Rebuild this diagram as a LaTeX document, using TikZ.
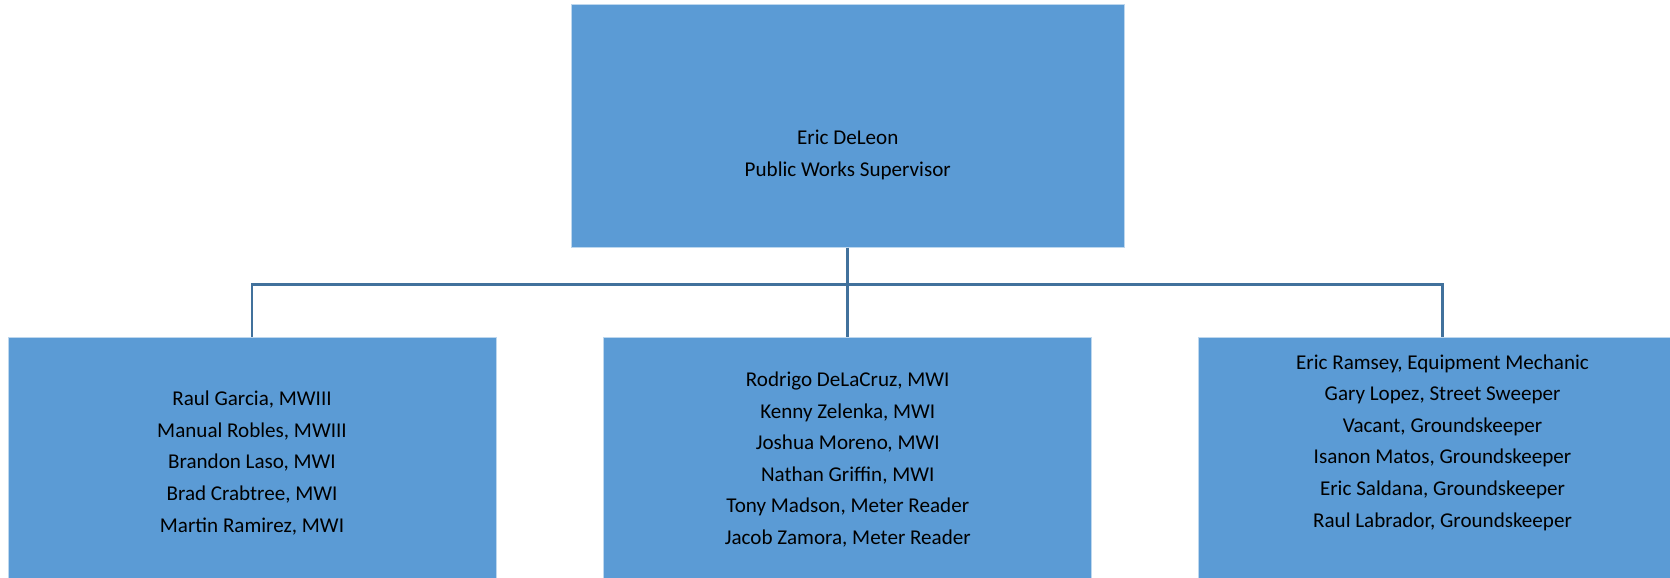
\documentclass[tikz,border=0pt]{standalone}
\usepackage{fontspec}
\setmainfont{Carlito}
\usetikzlibrary{positioning, calc}
\definecolor{boxblue}{RGB}{91,155,213}
\definecolor{boxedge}{RGB}{189,215,238}
\definecolor{linkblue}{RGB}{65,113,156}

\begin{document}
\begin{tikzpicture}[x=0.02cm, y=0.02cm,
    box/.style={rectangle, fill=boxblue, draw=boxedge, line width=0.5pt, inner sep=0pt},
    crew/.style={box, minimum width=9.76cm, minimum height=5.04cm},
    names/.style={align=center, inner sep=0pt, font=\fontsize{12}{18}\selectfont},
    link/.style={draw=linkblue, line width=1.7pt}]
    \useasboundingbox (0,0) rectangle (1670,578);
    \clip (0,0) rectangle (1670,578);

    \node[crew] (left) at (252,115) {};
    \node[crew, right=2.14cm of left] (mid) {};
    \node[crew, right=2.12cm of mid] (right) {};
    \node[box, minimum width=11.06cm, minimum height=4.86cm, above=1.78cm of mid] (boss) {};

    \coordinate (bar) at ([yshift=-0.74cm]boss.south);
    \draw[link] (boss.south) -- (bar);
    \draw[link] (left.north) |- (bar) -| (right.north);
    \draw[link] (mid.north |- bar) -- (mid.north);

    \node[names] (bosstext) at ([yshift=-0.59cm]boss.center)
        {Eric DeLeon\\Public Works Supervisor};
    \node[names] (lefttext) at (left.center)
        {Raul Garcia, MWIII\\Manual Robles, MWIII\\Brandon Laso, MWI\\Brad Crabtree, MWI\\Martin Ramirez, MWI};
    \node[names] (midtext) at ([yshift=0.07cm]mid.center)
        {Rodrigo DeLaCruz, MWI\\Kenny Zelenka, MWI\\Joshua Moreno, MWI\\Nathan Griffin, MWI\\Tony Madson, Meter Reader\\Jacob Zamora, Meter Reader};
    \node[names] (righttext) at ([yshift=0.41cm]right.center)
        {Eric Ramsey, Equipment Mechanic\\Gary Lopez, Street Sweeper\\Vacant, Groundskeeper\\Isanon Matos, Groundskeeper\\Eric Saldana, Groundskeeper\\Raul Labrador, Groundskeeper};
\end{tikzpicture}
\end{document}
